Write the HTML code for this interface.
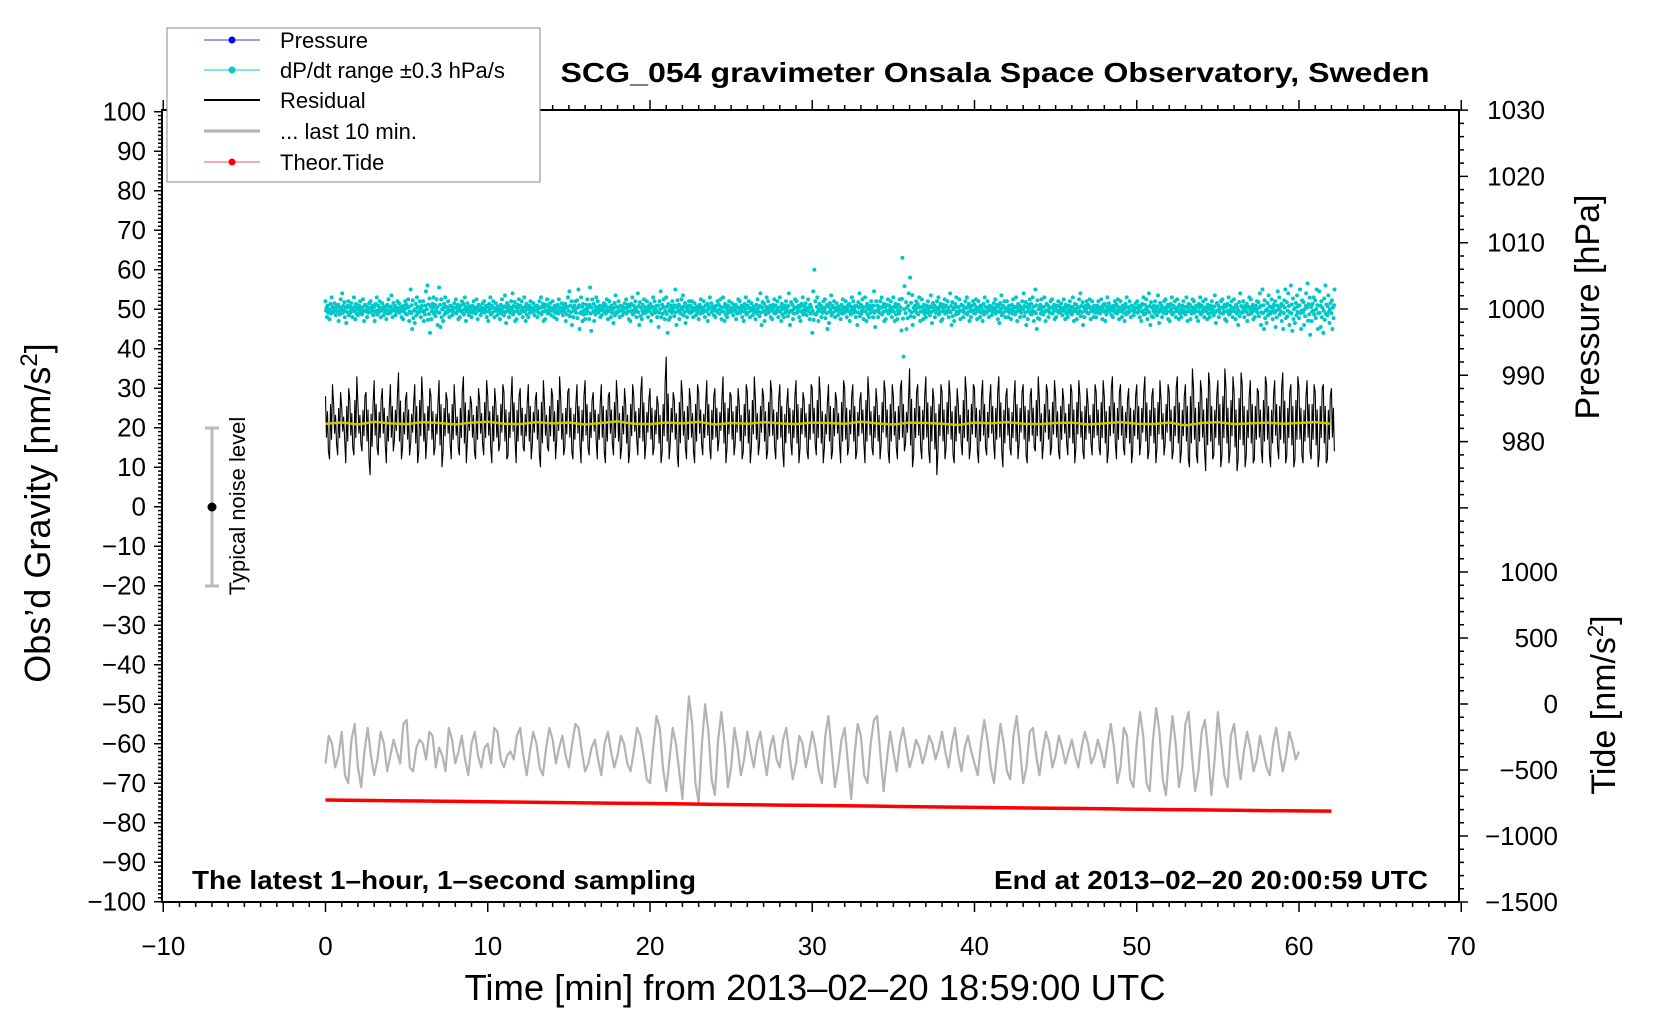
<!DOCTYPE html>
<html><head><meta charset="utf-8"><style>
html,body{margin:0;padding:0;background:#fff;}
svg{display:block;font-family:"Liberation Sans",Arial,sans-serif;}
</style></head><body>
<svg id="chart" width="1660" height="1020" viewBox="0 0 1660 1020" xmlns="http://www.w3.org/2000/svg">
<rect width="1660" height="1020" fill="#fff"/>
<g id="marks"></g>
<g id="axes"></g>
<text x="995" y="82" text-anchor="middle" font-size="28" font-weight="bold" textLength="869" lengthAdjust="spacingAndGlyphs">SCG_054 gravimeter Onsala Space Observatory, Sweden</text>
<text x="192" y="889" font-size="26" font-weight="bold" textLength="504" lengthAdjust="spacingAndGlyphs">The latest 1–hour, 1–second sampling</text>
<text x="1428" y="889" text-anchor="end" font-size="26" font-weight="bold" textLength="434" lengthAdjust="spacingAndGlyphs">End at 2013–02–20 20:00:59 UTC</text>
<text x="815" y="1000" text-anchor="middle" font-size="36" textLength="701" lengthAdjust="spacingAndGlyphs">Time [min] from 2013–02–20 18:59:00 UTC</text>
<text transform="translate(50,513) rotate(-90)" text-anchor="middle" font-size="36">Obs’d Gravity [nm/s<tspan font-size="24" dy="-13">2</tspan><tspan dy="13">]</tspan></text>
<text transform="translate(1599,307) rotate(-90)" text-anchor="middle" font-size="34">Pressure [hPa]</text>
<text transform="translate(1615,705) rotate(-90)" text-anchor="middle" font-size="34">Tide [nm/s<tspan font-size="22" dy="-12">2</tspan><tspan dy="12">]</tspan></text>
<g>
<line x1="212" y1="428" x2="212" y2="586" stroke="#bbb" stroke-width="3"/>
<line x1="205" y1="428" x2="219" y2="428" stroke="#bbb" stroke-width="3"/>
<line x1="205" y1="586" x2="219" y2="586" stroke="#bbb" stroke-width="3"/>
<circle cx="212" cy="507" r="4.5" fill="#000"/>
<text transform="translate(245,506) rotate(-90)" text-anchor="middle" font-size="22">Typical noise level</text>
</g>
<g>
<rect x="167" y="28" width="373" height="154" fill="#fff" stroke="#888" stroke-width="1"/>
<g><line x1="204" y1="40" x2="260" y2="40" stroke="#33f" stroke-width="1"/><circle cx="232" cy="40" r="3.5" fill="#00f"/><text x="280" y="48" font-size="22">Pressure</text></g>
<g><line x1="204" y1="70" x2="260" y2="70" stroke="#0cc" stroke-width="1"/><circle cx="232" cy="70" r="3.5" fill="#0cc"/><text x="280" y="78" font-size="22">dP/dt range ±0.3 hPa/s</text></g>
<g><line x1="204" y1="100" x2="260" y2="100" stroke="#000" stroke-width="2"/><text x="280" y="108" font-size="22">Residual</text></g>
<g><line x1="204" y1="131" x2="260" y2="131" stroke="#b3b3b3" stroke-width="3"/><text x="280" y="139" font-size="22">... last 10 min.</text></g>
<g><line x1="204" y1="162" x2="260" y2="162" stroke="#f55" stroke-width="1"/><circle cx="232" cy="162" r="3.5" fill="#f00"/><text x="280" y="170" font-size="22">Theor.Tide</text></g>
</g>
</svg>
<script>
const resMax=[28,31,26,29,25,30,27,33,26,28,29,26,32,27,30,25,31,28,34,27,29,26,31,33,27,30,28,26,32,29,27,31,25,29,33,28,26,30,27,32,28,30,26,31,29,27,33,28,30,26,31,27,29,32,26,30,28,33,27,29,30,26,31,28,32,27,29,26,31,28,29,32,27,30,26,31,28,29,33,27,30,28,26,31,38,29,27,32,28,30,27,31,29,26,32,28,30,27,33,29,28,30,26,31,29,33,27,30,28,32,29,27,31,26,30,28,32,29,27,31,30,33,28,26,31,29,27,32,30,28,31,27,29,33,28,30,26,32,29,31,28,30,32,27,35,29,31,28,33,30,27,31,29,32,28,30,26,33,29,31,30,28,32,27,31,29,33,28,30,27,32,29,31,28,30,33,27,31,29,32,28,30,27,31,29,32,28,30,26,31,29,32,28,30,33,29,31,27,30,28,31,29,33,28,30,32,27,31,29,30,33,28,31,35,30,32,29,34,31,28,32,35,30,33,29,34,31,28,32,30,29,33,31,28,32,30,34,29,31,33,30,28,32,31,29,30,31,28,30];
const resMin=[14,12,16,13,17,11,15,13,16,14,12,8,15,13,16,11,14,17,12,15,13,16,11,14,12,17,13,15,10,14,16,12,15,13,11,17,14,12,16,13,15,11,14,16,12,13,17,11,15,14,12,16,13,10,15,14,12,17,13,15,14,12,16,11,15,13,17,12,14,11,16,13,12,15,11,14,17,13,12,16,13,15,11,14,12,16,13,10,15,12,14,11,16,13,15,12,14,17,11,15,13,16,12,14,11,15,13,16,12,14,15,12,14,10,16,13,11,15,14,12,16,13,11,15,12,14,16,11,13,15,12,14,16,11,15,13,12,16,14,11,15,12,14,16,10,13,15,12,14,11,8,14,12,15,13,11,16,13,12,15,14,11,15,13,16,12,14,10,15,13,12,16,13,11,15,14,12,16,13,15,14,12,16,13,11,15,14,12,16,13,15,13,11,14,16,12,15,13,11,14,13,16,12,14,11,15,13,16,12,14,11,14,12,10,13,11,14,9,12,13,10,13,11,14,9,12,10,13,11,12,14,11,13,10,15,12,11,13,10,12,13,11,14,12,10,13,11,12,14];
const smoothRes=[21,21.3,20.8,21.5,21.1,20.9,21.4,21.2,20.8,21.3,21.5,21,20.9,21.4,21.1,21.3,20.8,21.2,21.6,21,20.9,21.3,21.1,21.5,20.8,21.2,21,21.4,21.1,20.9,21.3,21.2,21,21.5,21.1,20.8,21.3,21.2,21,20.7,21.3,21.1,21.4,21,20.9,21.2,21.3,20.8,21.1,21.4,21,20.9,21.3,20.6,21.2,21.4,20.9,21.1,21.3,21,21.2,21.4,21];
const cyanHi=[52,53,51.5,52.5,54,52,51.5,53,52,52.5,51.5,52,53,52,51.5,52.5,53.5,52,51.5,52,52.5,55,53,52,54.5,56,53,52.5,55.5,53,52,51.5,52.5,52,53,51.5,52,52.5,51.5,52,53,52,51.5,52.5,53.5,52,54,52.5,52,53,52,51.5,52,53,52.5,51.5,52,52.5,51.5,53,54.5,52,55,53,52.5,55.5,53,52,51.5,52.5,52,53.5,52,51.5,52.5,53,52,54,52.5,52,53,52,54.5,52.5,53,52,55,52.5,53.5,52,52,51.5,52.5,52,53,51.5,52,52.5,53,52,51.5,52.5,52,53,52,51.5,52.5,54,53,52,52.5,52,53,52,54,52.5,52,53,51.5,52.5,60,53,52,52.5,53.5,52,51.5,52.5,52,53,52,54,52.5,53,52,54.5,52,53,52.5,52,53,52.5,63,54,58,52,53,52.5,52,53.5,52,53,52.5,52,54,53,52.5,52,53,52,52.5,52,53,52,51.5,52.5,53.5,52,52,52.5,53,52,54,52.5,53,55,52.5,53,52,52.5,52,51.5,52.5,52,53,52.5,54,52,52.5,52,52,52.5,53,51.5,52,52.5,52,53,52,51.5,52,53,52.5,54,52,53.5,52,52.5,53,52,52.5,52,53,52.5,52,53,52,52.5,52,53.5,52,52.5,53,52,52.5,54,52,53,52.5,52,54,55,53.5,52.5,54.5,53,55,54,56,53.5,55,54,56.5,53,55,54.5,56,53.5,55];
const cyanLo=[48,47.5,48.5,47,48,46.5,48,47.5,48.5,47,48,48.5,47,48,48.5,47.5,48,48.5,48,47.5,47,45,46.5,48,47,44,47.5,46,45.5,47,48,48.5,47.5,48,47,48.5,48,47.5,48.5,48,47,48,48.5,47.5,46.5,48,47,47.5,48,47,48,48.5,48,47,47.5,48.5,48,47.5,48.5,47,46,48,45,47,47.5,44.5,47,48,48.5,47.5,48,46.5,48,48.5,47.5,47,48,46,47.5,48,47,48,45.5,47.5,44,48,46,47.5,46.5,48,48,48.5,47.5,48,47,48.5,48,47.5,47,48,48.5,47.5,48,47,48,48.5,47.5,46,47,48,47.5,48,47,48,46,47.5,48,47,48.5,47.5,44,47,48,45,46.5,48,48.5,47.5,48,47,48,46,47.5,47,48,45.5,48,47,47.5,48,47,47.5,38,45,46,48,47,47.5,48,46.5,48,47,47.5,48,46,47,47.5,48,47,48,47.5,48,47,48,48.5,47.5,46.5,48,48,47.5,47,48,46,47.5,47,45,47.5,47,48,47.5,48,48.5,47.5,48,47,47.5,46,48,47.5,48,48,47.5,47,48.5,48,47.5,48,47,48,48.5,48,47,47.5,46,48,46.5,48,47.5,47,48,47.5,48,47,47.5,48,47,48,47.5,48,46.5,48,47.5,47,48,47.5,46,48,47,47.5,48,46,45,46.5,47.5,45.5,47,45,46,44.5,46.5,45,46,43.5,47,45,45.5,44,46.5,45];
const last10=[-65,-58,-60,-66,-63,-57,-68,-70,-59,-55,-66,-71,-62,-56,-63,-68,-64,-57,-60,-67,-63,-59,-62,-65,-55,-54,-66,-67,-61,-59,-60,-64,-57,-58,-66,-61,-63,-67,-56,-59,-65,-62,-58,-64,-68,-60,-57,-63,-66,-61,-60,-65,-56,-57,-64,-66,-63,-62,-64,-58,-56,-63,-68,-62,-57,-60,-66,-68,-61,-56,-59,-65,-61,-58,-63,-66,-60,-55,-56,-62,-67,-65,-61,-59,-64,-68,-60,-57,-62,-66,-63,-58,-60,-65,-67,-62,-56,-58,-63,-69,-70,-61,-53,-56,-66,-72,-64,-56,-60,-67,-74,-60,-48,-55,-70,-75,-60,-50,-57,-69,-73,-59,-52,-60,-71,-66,-56,-61,-68,-64,-57,-62,-66,-60,-57,-63,-68,-61,-58,-64,-66,-59,-56,-63,-69,-65,-58,-60,-66,-62,-57,-61,-67,-70,-58,-53,-62,-71,-66,-59,-56,-65,-74,-63,-55,-58,-68,-70,-60,-54,-53,-63,-72,-64,-57,-62,-67,-60,-56,-61,-66,-63,-59,-61,-65,-62,-58,-60,-64,-61,-57,-62,-66,-60,-56,-63,-67,-61,-58,-62,-65,-68,-60,-54,-59,-66,-70,-62,-55,-60,-67,-69,-58,-53,-61,-70,-66,-57,-56,-63,-68,-62,-57,-60,-66,-63,-58,-61,-65,-62,-59,-63,-66,-61,-57,-60,-65,-63,-59,-62,-66,-60,-55,-61,-70,-66,-56,-58,-69,-71,-60,-52,-58,-70,-72,-59,-51,-57,-69,-73,-62,-53,-60,-71,-66,-55,-52,-63,-72,-67,-57,-54,-62,-73,-64,-52,-60,-68,-71,-58,-55,-63,-69,-62,-57,-61,-67,-64,-58,-62,-66,-68,-60,-56,-62,-67,-63,-57,-60,-64,-62];
const tideVals=[-727,-730,-733,-735,-738,-741,-743,-746,-749,-752,-754,-757,-760,-763,-766,-768,-771,-774,-777,-780,-783,-786,-789,-791,-794,-797,-800,-802,-805,-808,-810,-812];
const xTicks=[-10,0,10,20,30,40,50,60,70];
const gTicks=[100,90,80,70,60,50,40,30,20,10,0,-10,-20,-30,-40,-50,-60,-70,-80,-90,-100];
const pTicks=[1030,1020,1010,1000,990,980];
const tTicks=[1000,500,0,-500,-1000,-1500];

const NS='http://www.w3.org/2000/svg';
const X=t=>325.5+16.225*t;
const YG=v=>506.7-3.95*v;
const YP=p=>309-(p-1000)*6.63;
const YT=v=>704-v*0.132;
const L=162,R=1459,T=110,B=902;
const marks=document.getElementById('marks');
const axes=document.getElementById('axes');
function mk(tag,attrs,parent){const e=document.createElementNS(NS,tag);for(const k in attrs)e.setAttribute(k,attrs[k]);parent.appendChild(e);return e;}
const fmt=v=>(v<0?'\u2212'+(-v):''+v);

// cyan dP/dt
const cy=mk('g',{fill:'#00c8c8'},marks);


const offs=[0,0.13,0.06,0.19,0.03,0.16,0.09];
const fr=[1,0.6,0.3,0,0.3,0.6,1];
cyanHi.forEach((h,i)=>{const t=i*0.25,lo=cyanLo[i];
 const vals=[h,50+(h-50)*0.45,50+(h-50)*0.2,50+((i%3)-1)*0.4,50+(lo-50)*0.2,50+(lo-50)*0.45,lo];
 vals.forEach((v,k)=>{
  const c=mk('circle',{cx:X(t+offs[(k+i)%7]),cy:YG(v),r:2},cy);
  
  });});

// residual
let pts=[];
resMax.forEach((m,i)=>{const t=i*0.25,lo=resMin[i];
 if(i%2===0){pts.push(X(t)+','+YG(m));pts.push(X(t+0.06)+','+YG(21+(lo-21)*0.5));pts.push(X(t+0.12)+','+YG(21+(m-21)*0.45));pts.push(X(t+0.18)+','+YG(lo));}
 else{pts.push(X(t)+','+YG(lo));pts.push(X(t+0.06)+','+YG(21+(m-21)*0.5));pts.push(X(t+0.12)+','+YG(21+(lo-21)*0.45));pts.push(X(t+0.18)+','+YG(m));}});
const res=mk('polyline',{points:pts.join(' '),fill:'none',stroke:'#000','stroke-width':1.1},marks);


const sm=mk('polyline',{points:smoothRes.map((v,i)=>X(i)+','+YG(v)).join(' '),fill:'none',stroke:'#c8c800','stroke-width':2.5},marks);



// gray last 10 min
const gl=mk('polyline',{points:last10.map((v,i)=>X(i*0.2)+','+YG(v)).join(' '),fill:'none',stroke:'#b3b3b3','stroke-width':2.2,'stroke-linejoin':'round'},marks);



// tide
const td=mk('polyline',{points:tideVals.map((v,i)=>X(i*2)+','+YT(v)).join(' '),fill:'none',stroke:'#f00','stroke-width':3.5},marks);



// frame
const frame=mk('rect',{x:L,y:T,width:R-L,height:B-T,fill:'none',stroke:'#000','stroke-width':2},axes);


let tk='';
for(let t=-10;t<=70;t++){const x=X(t),len=(t%10===0)?10:5;tk+=`M${x},${B}v${len}M${x},${T}v${-len}`;}
for(let v=-100;v<=100;v++){const y=YG(v),len=(v%10===0)?8:4;tk+=`M${L},${y}h${-len}`;}
for(let p=1030;p>=968;p-=2){const y=YP(p),len=(p%10===0)?9:5;tk+=`M${R},${y}h${len}`;}
for(let v=-1500;v<=1300;v+=100){const y=YT(v),len=(v%500===0)?9:5;tk+=`M${R},${y}h${len}`;}
const tp=mk('path',{d:tk,stroke:'#000','stroke-width':1.5,fill:'none'},axes);


xTicks.forEach(t=>{const e=mk('text',{x:X(t),y:955,'text-anchor':'middle','font-size':26},axes);e.textContent=fmt(t);
 
 });
gTicks.forEach(v=>{const e=mk('text',{x:146,y:YG(v)+9,'text-anchor':'end','font-size':26},axes);e.textContent=fmt(v);
 
 });
pTicks.forEach(p=>{const e=mk('text',{x:1545,y:YP(p)+9,'text-anchor':'end','font-size':26},axes);e.textContent=fmt(p);
 
 });
tTicks.forEach(v=>{const e=mk('text',{x:1558,y:YT(v)+9,'text-anchor':'end','font-size':26},axes);e.textContent=fmt(v);
 
 });
</script>
</body></html>
